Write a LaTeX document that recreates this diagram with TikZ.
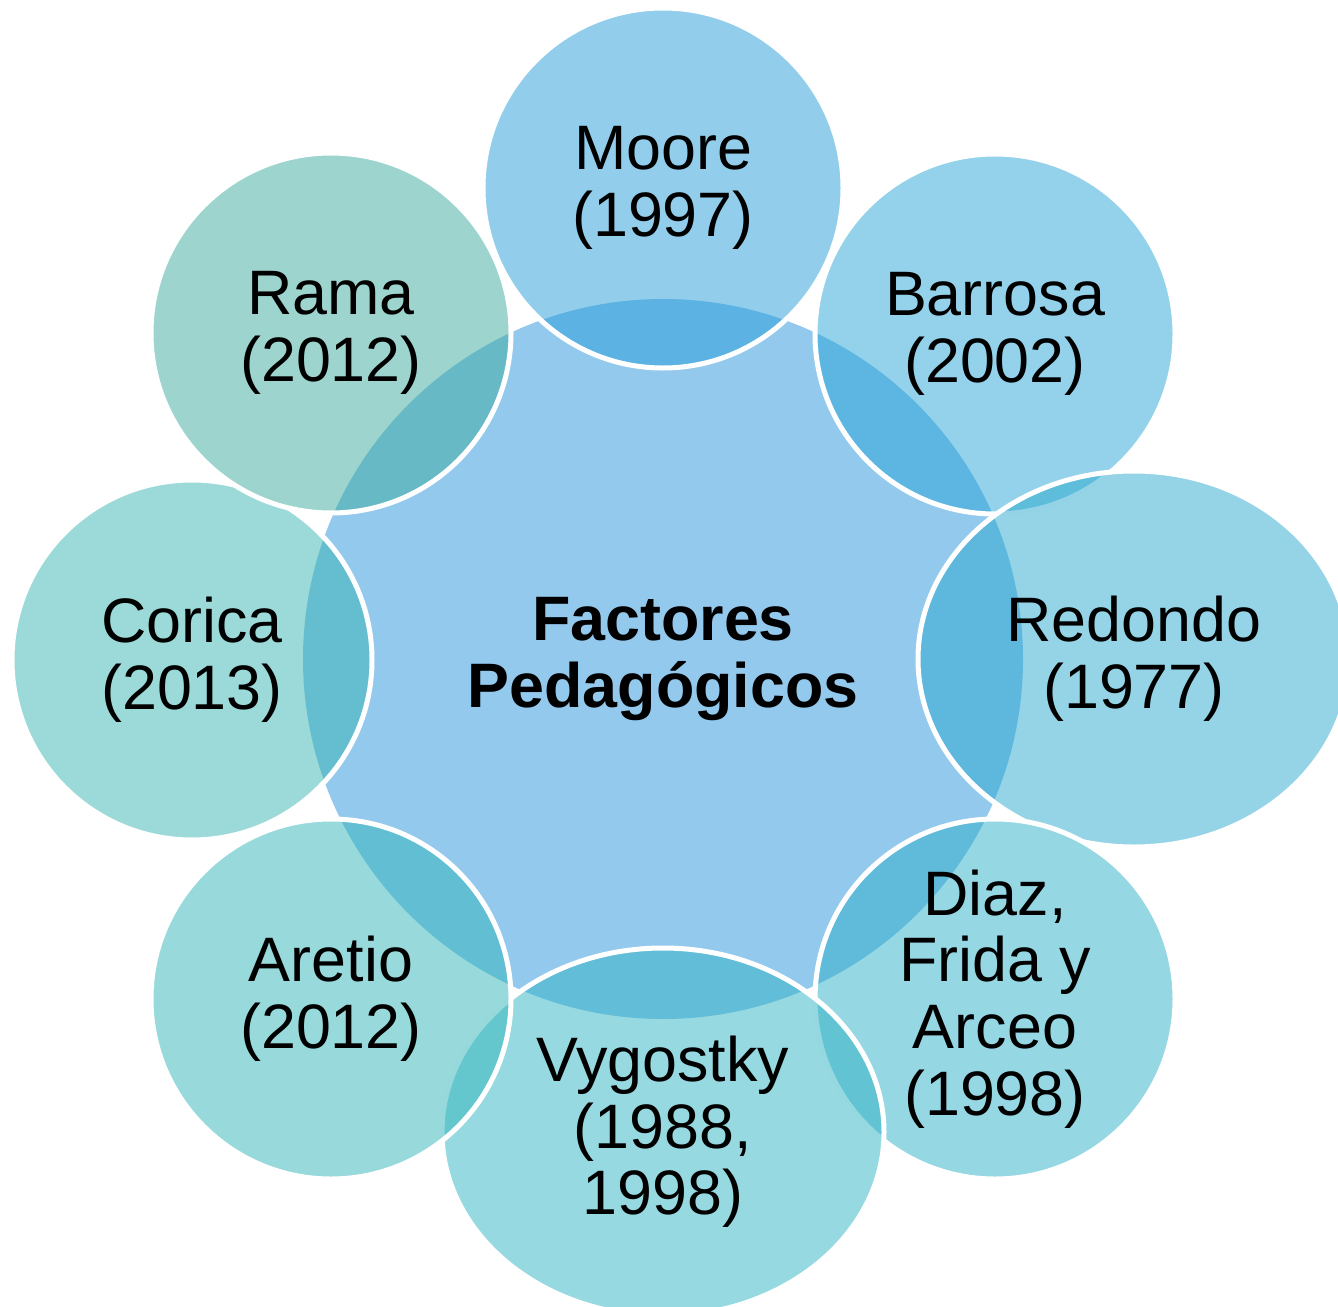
\documentclass[tikz,border=0pt]{standalone}
\usepackage{fontspec}
\setmainfont{Liberation Sans}
\usetikzlibrary{shapes.geometric}
\definecolor{ctr}{RGB}{148,201,238}
\definecolor{cMoore}{RGB}{37,157,217}
\definecolor{cBarrosa}{RGB}{39,165,213}
\definecolor{cRedondo}{RGB}{41,169,205}
\definecolor{cDiaz}{RGB}{45,175,201}
\definecolor{cVygostky}{RGB}{47,179,195}
\definecolor{cAretio}{RGB}{49,181,185}
\definecolor{cCorica}{RGB}{55,181,177}
\definecolor{cRama}{RGB}{59,171,157}
\begin{document}
\begin{tikzpicture}[x=1pt,y=-1pt,
  lbl/.style={inner sep=0pt, align=center, text=black, font=\fontsize{62.8}{66.6}\selectfont},
  outer/.style={lbl, draw=white, line width=5pt, fill opacity=0.5, draw opacity=1, text opacity=1},
  rnd/.style={outer, circle, minimum size=360pt},
  ell/.style 2 args={outer, ellipse, minimum width=#1, minimum height=#2}]
\useasboundingbox (0,0) rectangle (1338,1306);
\node[lbl, circle, fill=ctr, minimum size=720pt, font=\bfseries\fontsize{62.8}{66.6}\selectfont] (center) at (663,659) {Factores\\Pedagógicos};
\node[rnd, fill=cMoore] (moore) at (663,188) {Moore\\(1997)};
\node[rnd, fill=cBarrosa] (barrosa) at (995,334) {Barrosa\\(2002)};
\node[ell={432pt}{376pt}, fill=cRedondo] (redondo) at (1134,659) {Redondo\\(1977)};
\node[rnd, fill=cDiaz] (diaz) at (995,999) {Diaz,\\Frida y\\Arceo\\(1998)};
\node[ell={442pt}{368pt}, fill=cVygostky] (vygostky) at (663,1132) {Vygostky\\(1988,\\1998)};
\node[rnd, fill=cAretio] (aretio) at (331,999) {Aretio\\(2012)};
\node[rnd, fill=cCorica] (corica) at (192,660) {Corica\\(2013)};
\node[rnd, fill=cRama] (rama) at (331,333) {Rama\\(2012)};
\begin{scope}
  \clip (rama.center) circle (180pt);
  \draw[white, line width=5pt] (moore.center) circle (180pt);
\end{scope}
\end{tikzpicture}
\end{document}
